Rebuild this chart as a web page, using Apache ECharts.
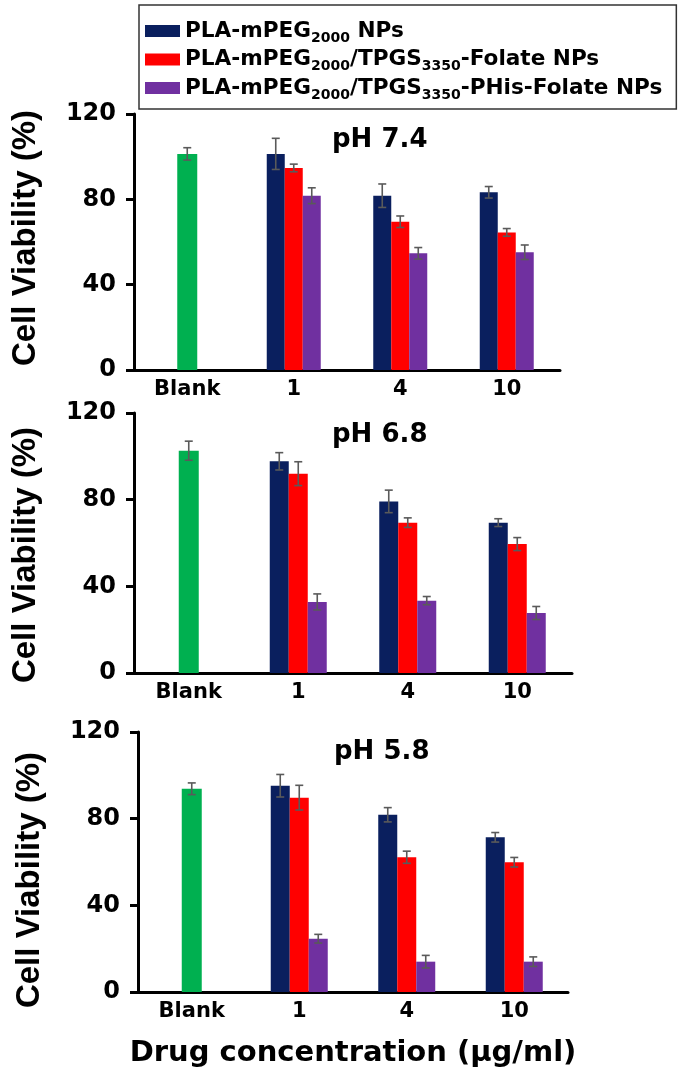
<!DOCTYPE html>
<html>
<head>
<meta charset="utf-8">
<script src="https://cdn.jsdelivr.net/npm/echarts@6/dist/echarts.min.js"></script>
<style>
html,body{margin:0;padding:0;background:#fff;}
#chart{width:685px;height:1079px;}
</style>
</head>
<body>
<div id="chart"></div>
<script>
// ---------- data ----------
const categories = ['Blank', '1', '4', '10'];
const seriesNames = ['PLA-mPEG2000 NPs', 'PLA-mPEG2000/TPGS3350-Folate NPs', 'PLA-mPEG2000/TPGS3350-PHis-Folate NPs'];
const panelTitles = ['pH 7.4', 'pH 6.8', 'pH 5.8'];
const yMin = 0, yMax = 120, yStep = 40;

// pH 7.4
const ph74Blank = 101.3, ph74BlankErr = 2.9;
const ph74Navy = [101.3, 81.7, 83.3];
const ph74NavyErr = [7.3, 5.5, 2.7];
const ph74Red = [94.7, 69.5, 64.5];
const ph74RedErr = [1.8, 2.7, 1.8];
const ph74Purple = [81.7, 54.7, 55.2];
const ph74PurpleErr = [3.7, 2.7, 3.4];

// pH 6.8
const ph68Blank = 102.6, ph68BlankErr = 4.4;
const ph68Navy = [97.7, 79.2, 69.4];
const ph68NavyErr = [4.0, 5.2, 1.8];
const ph68Red = [92.0, 69.4, 59.5];
const ph68RedErr = [5.5, 2.2, 3.0];
const ph68Purple = [32.8, 33.4, 27.7];
const ph68PurpleErr = [3.7, 1.9, 3.0];

// pH 5.8
const ph58Blank = 93.8, ph58BlankErr = 2.7;
const ph58Navy = [95.2, 81.8, 71.4];
const ph58NavyErr = [5.2, 3.3, 2.2];
const ph58Red = [89.7, 62.2, 59.9];
const ph58RedErr = [5.7, 2.8, 2.2];
const ph58Purple = [24.6, 14.0, 14.0];
const ph58PurpleErr = [2.0, 2.9, 2.2];

// ---------- style ----------
const FONT = 'DejaVu Sans';
const colGreen = '#00b050', colNavy = '#0a1f5e', colRed = '#ff0000', colPurple = '#7030a0';
const errColor = '#5a5a5a';

const grids = [
  {left: 134, top: 114, width: 426, height: 256, bw: 18, namePad: [0, 0, 0, 8]},
  {left: 134, top: 413, width: 438, height: 260, bw: 19, namePad: [0, 24, 0, 0]},
  {left: 138, top: 732, width: 430, height: 260, bw: 19, namePad: [0, 36, 0, 0]}
];
const titleTops = [127, 422, 739];
const titleLefts = [332, 332, 334];

function errRender(slot, bw) {
  return function (params, api) {
    const cat = api.value(0), v = api.value(1), e = api.value(2);
    const c = api.coord([cat, v]);
    const t = api.coord([cat, v + e]);
    const b = api.coord([cat, v - e]);
    const x = c[0] + slot * bw;
    const h = 4;
    const st = {stroke: errColor, lineWidth: 1.6};
    return {
      type: 'group',
      children: [
        {type: 'line', shape: {x1: x, y1: t[1], x2: x, y2: b[1]}, style: st},
        {type: 'line', shape: {x1: x - h, y1: t[1], x2: x + h, y2: t[1]}, style: st},
        {type: 'line', shape: {x1: x - h, y1: b[1], x2: x + h, y2: b[1]}, style: st}
      ]
    };
  };
}

const panelData = [
  [ph74Blank, ph74BlankErr, ph74Navy, ph74NavyErr, ph74Red, ph74RedErr, ph74Purple, ph74PurpleErr],
  [ph68Blank, ph68BlankErr, ph68Navy, ph68NavyErr, ph68Red, ph68RedErr, ph68Purple, ph68PurpleErr],
  [ph58Blank, ph58BlankErr, ph58Navy, ph58NavyErr, ph58Red, ph58RedErr, ph58Purple, ph58PurpleErr]
];

const gridOpts = [], xAxes = [], yAxes = [], series = [], titles = [];

panelData.forEach(function (pd, k) {
  const g = grids[k];
  gridOpts.push({left: g.left, top: g.top, width: g.width, height: g.height, outerBoundsMode: 'none'});
  xAxes.push({
    type: 'category', gridIndex: k, data: categories,
    axisLine: {lineStyle: {color: '#000', width: 3}},
    axisTick: {show: false},
    axisLabel: {color: '#000', fontFamily: FONT, fontWeight: 'bold', fontSize: 21, margin: 9},
    splitLine: {show: false},
    name: k === 2 ? 'Drug concentration (µg/ml)' : '',
    nameLocation: 'middle', nameGap: 47,
    nameTextStyle: {color: '#000', fontFamily: FONT, fontWeight: 'bold', fontSize: 29}
  });
  xAxes.push({
    type: 'category', gridIndex: k, data: categories, show: false
  });
  yAxes.push({
    type: 'value', gridIndex: k, min: yMin, max: yMax, interval: yStep,
    axisLine: {show: true, lineStyle: {color: '#000', width: 3}},
    axisTick: {show: true, length: 8, lineStyle: {color: '#000', width: 3}},
    axisLabel: {color: '#000', fontFamily: FONT, fontWeight: 'bold', fontSize: 24, margin: 18},
    splitLine: {show: false},
    name: 'Cell Viability (%)', nameLocation: 'middle', nameGap: 92, nameRotate: 90,
    nameTextStyle: {color: '#000', fontFamily: 'Liberation Sans', fontWeight: 'bold', fontSize: 33, padding: g.namePad}
  });
  titles.push({
    text: panelTitles[k], left: titleLefts[k], top: titleTops[k], padding: 0,
    textStyle: {color: '#000', fontFamily: FONT, fontWeight: 'bold', fontSize: 26, lineHeight: 26}
  });

  const blank = pd[0], blankErr = pd[1];
  const groups = [[pd[2], pd[3], colNavy], [pd[4], pd[5], colRed], [pd[6], pd[7], colPurple]];

  series.push({
    type: 'bar', name: 'Blank', xAxisIndex: 2 * k, yAxisIndex: k,
    data: [blank, null, null, null], barWidth: 20,
    itemStyle: {color: colGreen}, silent: true
  });
  series.push({
    type: 'custom', name: 'err', xAxisIndex: 2 * k + 1, yAxisIndex: k, z: 10, silent: true,
    renderItem: errRender(0, g.bw), encode: {x: 0, y: 1},
    data: [[0, blank, blankErr]]
  });
  groups.forEach(function (gr, j) {
    series.push({
      type: 'bar', name: seriesNames[j], xAxisIndex: 2 * k + 1, yAxisIndex: k,
      data: [null].concat(gr[0]), barWidth: g.bw, barGap: '0%',
      itemStyle: {color: gr[2]}, silent: true
    });
  });
  groups.forEach(function (gr, j) {
    series.push({
      type: 'custom', name: 'err', xAxisIndex: 2 * k + 1, yAxisIndex: k, z: 10, silent: true,
      renderItem: errRender(j - 1, g.bw), encode: {x: 0, y: 1},
      data: gr[0].map(function (v, i) { return [i + 1, v, gr[1][i]]; })
    });
  });
});

const richMap = {
  'PLA-mPEG2000 NPs': '{n|PLA-mPEG}{s|2000}{n| NPs}',
  'PLA-mPEG2000/TPGS3350-Folate NPs': '{n|PLA-mPEG}{s|2000}{n|/TPGS}{s|3350}{n|-Folate NPs}',
  'PLA-mPEG2000/TPGS3350-PHis-Folate NPs': '{n|PLA-mPEG}{s|2000}{n|/TPGS}{s|3350}{n|-PHis-Folate NPs}'
};

const option = {
  backgroundColor: '#fff',
  animation: false,
  title: titles,
  legend: {
    orient: 'vertical', left: 139, top: 5, padding: [15, 14, 7, 6], itemGap: 3.5,
    itemWidth: 35, itemHeight: 12, icon: 'rect',
    borderColor: '#333', borderWidth: 1.5, borderRadius: 0,
    selectedMode: false,
    data: seriesNames,
    formatter: function (name) { return richMap[name]; },
    textStyle: {
      color: '#000',
      rich: {
        n: {fontFamily: FONT, fontWeight: 'bold', fontSize: 21.6, lineHeight: 28, color: '#000'},
        s: {fontFamily: FONT, fontWeight: 'bold', fontSize: 14, lineHeight: 14, verticalAlign: 'bottom', color: '#000'}
      }
    }
  },
  grid: gridOpts,
  xAxis: xAxes,
  yAxis: yAxes,
  series: series
};

const chart = echarts.init(document.getElementById('chart'), null, {renderer: 'canvas'});
chart.setOption(option);
</script>
</body>
</html>
